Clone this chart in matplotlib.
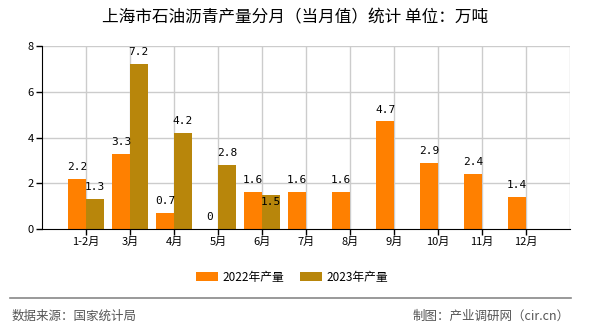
import numpy as np
import matplotlib
matplotlib.use("Agg")
import matplotlib.pyplot as plt
from matplotlib.lines import Line2D

plt.rcParams['font.family'] = ['Noto Sans CJK SC', 'DejaVu Sans']

categories = ["1-2月", "3月", "4月", "5月", "6月", "7月", "8月", "9月", "10月", "11月", "12月"]
values_2022 = [2.2, 3.3, 0.7, 0, 1.6, 1.6, 1.6, 4.7, 2.9, 2.4, 1.4]
values_2023 = [1.3, 7.2, 4.2, 2.8, 1.5, np.nan, np.nan, np.nan, np.nan, np.nan, np.nan]
series_names = ["2022年产量", "2023年产量"]
title = "上海市石油沥青产量分月（当月值）统计 单位：万吨"
source_left = "数据来源：国家统计局"
source_right = "制图：产业调研网（cir.cn）"

c22 = "#FF8000"
c23 = "#B8860B"

fig = plt.figure(figsize=(5.9, 3.3), dpi=100)
ax = fig.add_axes([42/590, 1-229/330, (570-42)/590, (229-46)/330])

x = np.arange(len(categories))
w = 0.4
b1 = ax.bar(x - w/2, values_2022, width=w, color=c22, zorder=3, label=series_names[0])
b2 = ax.bar(x + w/2, values_2023, width=w, color=c23, zorder=3, label=series_names[1])

lab_kw = dict(textcoords="offset points", ha="center", fontsize=8, family="DejaVu Sans Mono", zorder=5)
for xi, v in zip(x, values_2022):
    if not np.isnan(v):
        ax.annotate(f"{v:g}", (xi - w/2, v), xytext=(0, 5), va="bottom", **lab_kw)
for xi, v, v0 in zip(x, values_2023, values_2022):
    if not np.isnan(v):
        if abs(v - v0) < 0.5 and v < v0:
            # label collides with neighbour: placed just inside the bar top
            ax.annotate(f"{v:g}", (xi + w/2, v), xytext=(0, -2), va="top", **lab_kw)
        else:
            ax.annotate(f"{v:g}", (xi + w/2, v), xytext=(0, 5), va="bottom", **lab_kw)

ax.set_xlim(-1, 11)
ax.set_ylim(0, 8)
ax.set_yticks([0, 2, 4, 6, 8])
ax.set_xticks(x)
ax.set_xticklabels(categories, fontsize=8)
ax.tick_params(axis='y', labelsize=8, length=4, width=1, direction='out', pad=2)
ax.tick_params(axis='x', length=4, width=1, direction='out', pad=2)

for gx in list(x) + [11]:
    ax.axvline(gx, color="#CCCCCC", lw=1, zorder=1)
for gy in [2, 4, 6, 8]:
    ax.axhline(gy, color="#CCCCCC", lw=1, zorder=1)

for s in ["top", "right"]:
    ax.spines[s].set_visible(False)
ax.spines["left"].set_color("black")
ax.spines["bottom"].set_color("black")
ax.spines["left"].set_zorder(4)
ax.spines["bottom"].set_zorder(4)

fig.text(0.5, 1-18/330, title, ha="center", va="center", fontsize=12)

leg = fig.legend(handles=[b1, b2], labels=series_names, loc="center",
                 bbox_to_anchor=(0.495, 1-277/330), ncol=2, frameon=False,
                 fontsize=8.5, handlelength=1.9, handleheight=0.75, columnspacing=1.3,
                 handletextpad=0.4)

fig.add_artist(Line2D([10/590, 571/590], [1-298/330, 1-298/330], color="#888888", lw=1.2))
fig.text(12/590, 1-316/330, source_left, ha="left", va="center", fontsize=9, color="#555555")
fig.text(570/590, 1-316/330, source_right, ha="right", va="center", fontsize=9, color="#555555")

fig.savefig("out.png", dpi=100)
